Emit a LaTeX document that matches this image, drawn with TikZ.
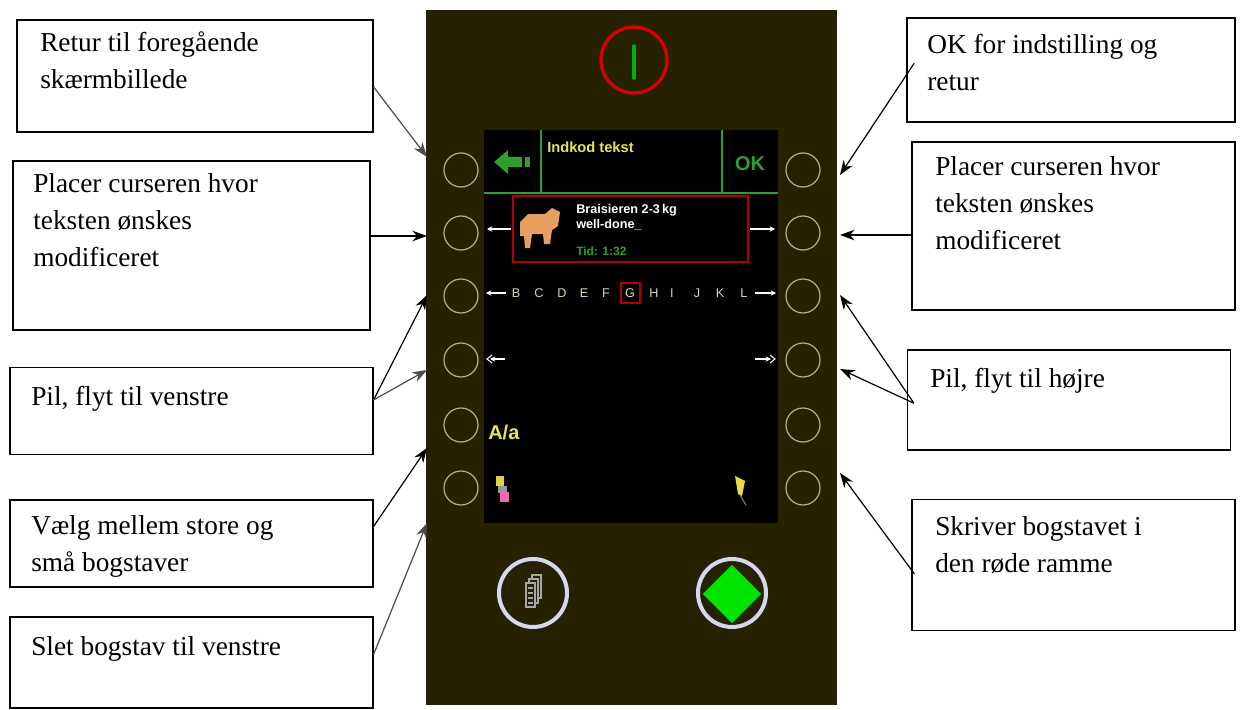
\documentclass[tikz,border=0pt]{standalone}
\usepackage{fontspec}
\setmainfont{Liberation Serif}
\newfontfamily\scr{Liberation Sans}
\usetikzlibrary{arrows.meta,calc,shapes.geometric}
\definecolor{panel}{HTML}{262200}
\definecolor{btn}{HTML}{B4B48C}
\definecolor{lcd}{HTML}{2E9E2E}
\definecolor{ylw}{HTML}{E6E650}
\definecolor{ltr}{HTML}{D8D8B8}
\definecolor{cow}{HTML}{E8A060}
\tikzset{
 box/.style={draw=black,line width=1.2pt,fill=white,inner sep=0pt},
 btxt/.style={anchor=north west,align=left,font=\fontsize{20.5}{28}\selectfont,inner sep=0pt},
 conn/.style={-{Stealth[length=11pt,width=8pt]},line width=0.9pt},
 sbtn/.style={draw=btn,line width=0.9pt},
 warr/.style={-{Stealth[length=4pt,width=4pt]},draw=white,line width=0.8pt},
 letter/.style={text=ltr,font=\scr\fontsize{9.5}{9.5}\selectfont,inner sep=1pt}
}
\begin{document}
\begin{tikzpicture}[x=0.75pt,y=-0.75pt]
\useasboundingbox (0,0) rectangle (1240,710);
\fill[white] (0,0) rectangle (1240,710);
% panel
\fill[panel] (426,10) rectangle (837,705);
\draw[red!85!black,line width=2.5pt] (634,60) circle[radius=33];
\draw[green!70!black,line width=2.5pt,line cap=round] (634,46) -- (634,78);
% screen
\fill[black] (484,130) rectangle (778,523);
\draw[lcd,line width=1.5pt] (484,193) -- (778,193);
\draw[lcd,line width=1.5pt] (541,130) -- (541,193) (722,130) -- (722,193);
\fill[lcd] (494,162) -- (508,150) -- (508,157) -- (522,157) -- (522,167) -- (508,167) -- (508,174) -- cycle;
\fill[lcd] (525,157) rectangle (530,167);
\node[anchor=north west,text=ylw,font=\scr\bfseries\fontsize{11}{11}\selectfont,inner sep=0pt] (title) at (547,142) {Indkod tekst};
\node[text=lcd,font=\scr\bfseries\fontsize{15}{15}\selectfont,inner sep=0pt] (ok) at (750,164) {OK};
% red box
\draw[red!70!black,line width=1pt] (513,196) rectangle (748,262);
\fill[cow] (520,222) -- (528,214) -- (545,214) -- (552,208) -- (560,212) -- (558,226) -- (552,230) -- (550,244) -- (544,244) -- (543,234) -- (532,234) -- (530,248) -- (525,248) -- (524,236) -- (520,236) -- cycle;
\node[anchor=north west,text=white,font=\scr\bfseries\fontsize{9.5}{11.5}\selectfont,inner sep=0pt,align=left] (dish) at (576,204) {Braisieren 2-3\,kg\\well-done\_};
\node[anchor=north west,text=lcd,font=\scr\bfseries\fontsize{9}{9}\selectfont,inner sep=0pt] (tid) at (576,247) {Tid: 1:32};
\draw[warr] (511,229) -- (487,229);
\draw[warr] (750,229) -- (775,229);
% letter row
\draw[warr] (506,293) -- (486,293);
\draw[warr] (755,293) -- (776,293);
\foreach \l/\x in {B/516,C/539,D/562,E/584,F/606,G/630,H/654,I/672,J/697,K/720,L/744}{
  \node[letter] (l\l) at (\x,293) {\l};
}
\draw[red!70!black,line width=0.9pt] (621,283) rectangle (640,303);
% double arrows
\draw[warr] (505,359) -- (490,359);
\draw[white,line width=0.8pt] (492,355) -- (487,359) -- (492,363);
\draw[warr] (755,359) -- (771,359);
\draw[white,line width=0.8pt] (770,355) -- (775,359) -- (770,363);
\node[anchor=west,text=ylw,font=\scr\bfseries\fontsize{15}{15}\selectfont,inner sep=0pt] (aa) at (488,432) {A/a};
% eraser
\fill[ylw!80!brown] (496,476) rectangle (504,486);
\fill[gray!80] (498,486) rectangle (507,493);
\fill[magenta!60!white] (500,492) rectangle (509,502);
% pen
\fill[ylw!90!orange] (735,476) -- (745,481) -- (742,496) -- (738,494) -- cycle;
\draw[gray,line width=0.8pt] (740,495) -- (746,505);
% side buttons
\foreach \y in {170,233,296,360,425,488}{
  \draw[sbtn] (461,\y) circle[radius=17];
  \draw[sbtn] (803,\y) circle[radius=17];
}
% bottom buttons
\draw[gray!40!blue!20!white,line width=3pt] (533,593) circle[radius=34];
\draw[gray!70,line width=1.3pt] (526,583) rectangle (535,607);
\foreach \yy in {588,593,598,603} \draw[gray!70,line width=1.2pt] (528,\yy) -- (533,\yy);
\draw[gray!70,line width=1pt] (529,583) -- (529,579) -- (538,579) -- (538,603) -- (535,603);
\draw[gray!70,line width=1pt] (532,579) -- (532,575) -- (541,575) -- (541,598) -- (538,598);
\draw[gray!40!blue!20!white,line width=3pt] (732,593) circle[radius=34];
\node[diamond,fill=green!90!black,minimum width=44pt,minimum height=44pt,inner sep=0pt] (go) at (732,594) {};
% left boxes
\node[box,minimum width=267pt,minimum height=84pt] (b1) at (195,76) {};
\node[btxt] (t1) at (40,31) {Retur til foregående\\skærmbillede};
\node[box,minimum width=268pt,minimum height=127pt] (b2) at (191.5,245.5) {};
\node[btxt] (t2) at (33,173) {Placer curseren hvor\\teksten ønskes\\modificeret};
\node[box,minimum width=272pt,minimum height=65pt] (b3) at (191.5,411) {};
\node[btxt] (t3) at (31,386) {Pil, flyt til venstre};
\node[box,minimum width=272pt,minimum height=65pt] (b4) at (191.5,543.5) {};
\node[btxt] (t4) at (31,515) {Vælg mellem store og\\små bogstaver};
\node[box,minimum width=272pt,minimum height=68pt] (b5) at (191.5,662.5) {};
\node[btxt] (t5) at (31,636) {Slet bogstav til venstre};
% right boxes
\node[box,minimum width=246pt,minimum height=78pt] (r1) at (1071,70) {};
\node[btxt] (u1) at (927,34) {OK for indstilling og\\retur};
\node[box,minimum width=242pt,minimum height=126pt] (r2) at (1073.5,226) {};
\node[btxt] (u2) at (935,156) {Placer curseren hvor\\teksten ønskes\\modificeret};
\node[box,minimum width=242pt,minimum height=75pt] (r3) at (1069,400) {};
\node[btxt] (u3) at (930,368) {Pil, flyt til højre};
\node[box,minimum width=242pt,minimum height=98pt] (r4) at (1073.5,565) {};
\node[btxt] (u4) at (935,516) {Skriver bogstavet i\\den røde ramme};
% tip coordinates
\coordinate (a1) at (427,157);
\coordinate (a2) at (427,236);
\coordinate (a3) at (427,295);
\coordinate (a4) at (427,370);
\coordinate (a5) at (427,448);
\coordinate (a6) at (427,523);
\coordinate (c1) at (840,175);
\coordinate (c2) at (840,235);
\coordinate (c3) at (840,295);
\coordinate (c4) at (840,369);
\coordinate (c5) at (840,473);
% connectors
\draw[conn,draw=gray!60!black] ($(b1.north east)+(0,68)$) -- (a1);
\draw[conn] (b2.east |- a2) -- (a2);
\draw[conn] ($(b3.north east)+(0,33)$) -- (a3);
\draw[conn,draw=gray!60!black] ($(b3.north east)+(0,33)$) -- (a4);
\draw[conn] ($(b4.north east)+(0,27)$) -- (a5);
\draw[conn,draw=gray!60!black] ($(b5.north east)+(0,38)$) -- (a6);
\draw[conn] ($(r1.north west)+(8,46)$) -- (c1);
\draw[conn] (r2.west |- c2) -- (c2);
\draw[conn] ($(r3.north west)+(7,54)$) -- (c3);
\draw[conn] ($(r3.north west)+(7,54)$) -- (c4);
\draw[conn] ($(r4.north west)+(3,75)$) -- (c5);
\end{tikzpicture}
\end{document}
